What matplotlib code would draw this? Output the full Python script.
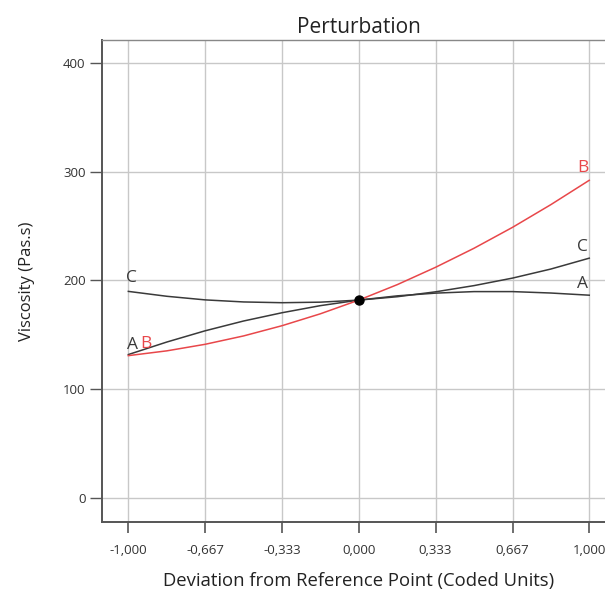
import matplotlib
matplotlib.use("Agg")
import matplotlib.pyplot as plt

plt.rcParams['font.family'] = ['Open Sans', 'DejaVu Sans']

# Data (coded deviation vs viscosity)
x_dev = [-1.0, -0.833, -0.667, -0.5, -0.333, -0.167, 0.0, 0.167, 0.333, 0.5, 0.667, 0.833, 1.0]
visc_A = [132, 143.5, 153.8, 162.8, 170.4, 176.9, 182, 185.9, 188.4, 189.8, 189.8, 188.5, 186.5]
visc_B = [131, 135.4, 141.4, 149.1, 158.5, 169.4, 182, 196.2, 212.1, 229.6, 248.8, 269.6, 292]
visc_C = [190, 185.5, 182.2, 180.3, 179.6, 180.1, 182, 185.1, 189.6, 195.3, 202.2, 210.5, 220.5]
ref_point = (0.0, 182)

xticks = [-1.0, -0.667, -0.333, 0.0, 0.333, 0.667, 1.0]
xtick_labels = ['-1,000', '-0,667', '-0,333', '0,000', '0,333', '0,667', '1,000']
yticks = [0, 100, 200, 300, 400]

black = '#3a3a3a'
red = '#e8474a'

fig = plt.figure(figsize=(6.05, 5.93), dpi=100)
ax = fig.add_axes([0.1691, 0.1202, 1.017 - 0.1691, 0.9325 - 0.1202])

ax.plot(x_dev, visc_C, color=black, lw=1.1, zorder=3)
ax.plot(x_dev, visc_A, color=black, lw=1.1, zorder=3)
ax.plot(x_dev, visc_B, color=red, lw=1.1, zorder=4)
ax.plot([ref_point[0]], [ref_point[1]], 'o', color='black', ms=6.5, zorder=5)

lab_fs = 12.5
ax.text(-0.985, 202, 'C', color=black, fontsize=lab_fs, ha='center', va='center')
ax.text(-0.98, 141, 'A', color=black, fontsize=lab_fs, ha='center', va='center')
ax.text(-0.925, 142, 'B', color=red, fontsize=lab_fs, ha='center', va='center')
ax.text(0.974, 303, 'B', color=red, fontsize=lab_fs, ha='center', va='center')
ax.text(0.972, 231, 'C', color=black, fontsize=lab_fs, ha='center', va='center')
ax.text(0.972, 196.5, 'A', color=black, fontsize=lab_fs, ha='center', va='center')

ax.set_xlim(-1.113, 1.113)
ax.set_ylim(-21.5, 420.8)
ax.set_xticks(xticks)
ax.set_xticklabels(xtick_labels)
ax.set_yticks(yticks)

ax.grid(True, color='#c8c8c8', lw=1.0, zorder=0)
ax.set_axisbelow(True)

for s in ['left', 'bottom']:
    ax.spines[s].set_color('#555555')
    ax.spines[s].set_linewidth(1.4)
ax.spines['top'].set_color('#888888')
ax.spines['top'].set_linewidth(1.0)
ax.spines['right'].set_visible(False)

ax.tick_params(axis='x', direction='out', length=8, width=1.2, color='#555555',
               labelsize=9.5, pad=8, labelcolor='#333333')
ax.tick_params(axis='y', direction='out', length=9, width=1.0, color='#555555',
               labelsize=9.5, pad=3, labelcolor='#333333')

ax.set_title('Perturbation', fontsize=15, color='#222222', pad=5)
ax.set_xlabel('Deviation from Reference Point (Coded Units)', fontsize=13.3,
              color='#222222', labelpad=11)
ax.set_ylabel('Viscosity (Pas.s)', fontsize=12, color='#222222', labelpad=20)

fig.savefig('out.png', dpi=100)
